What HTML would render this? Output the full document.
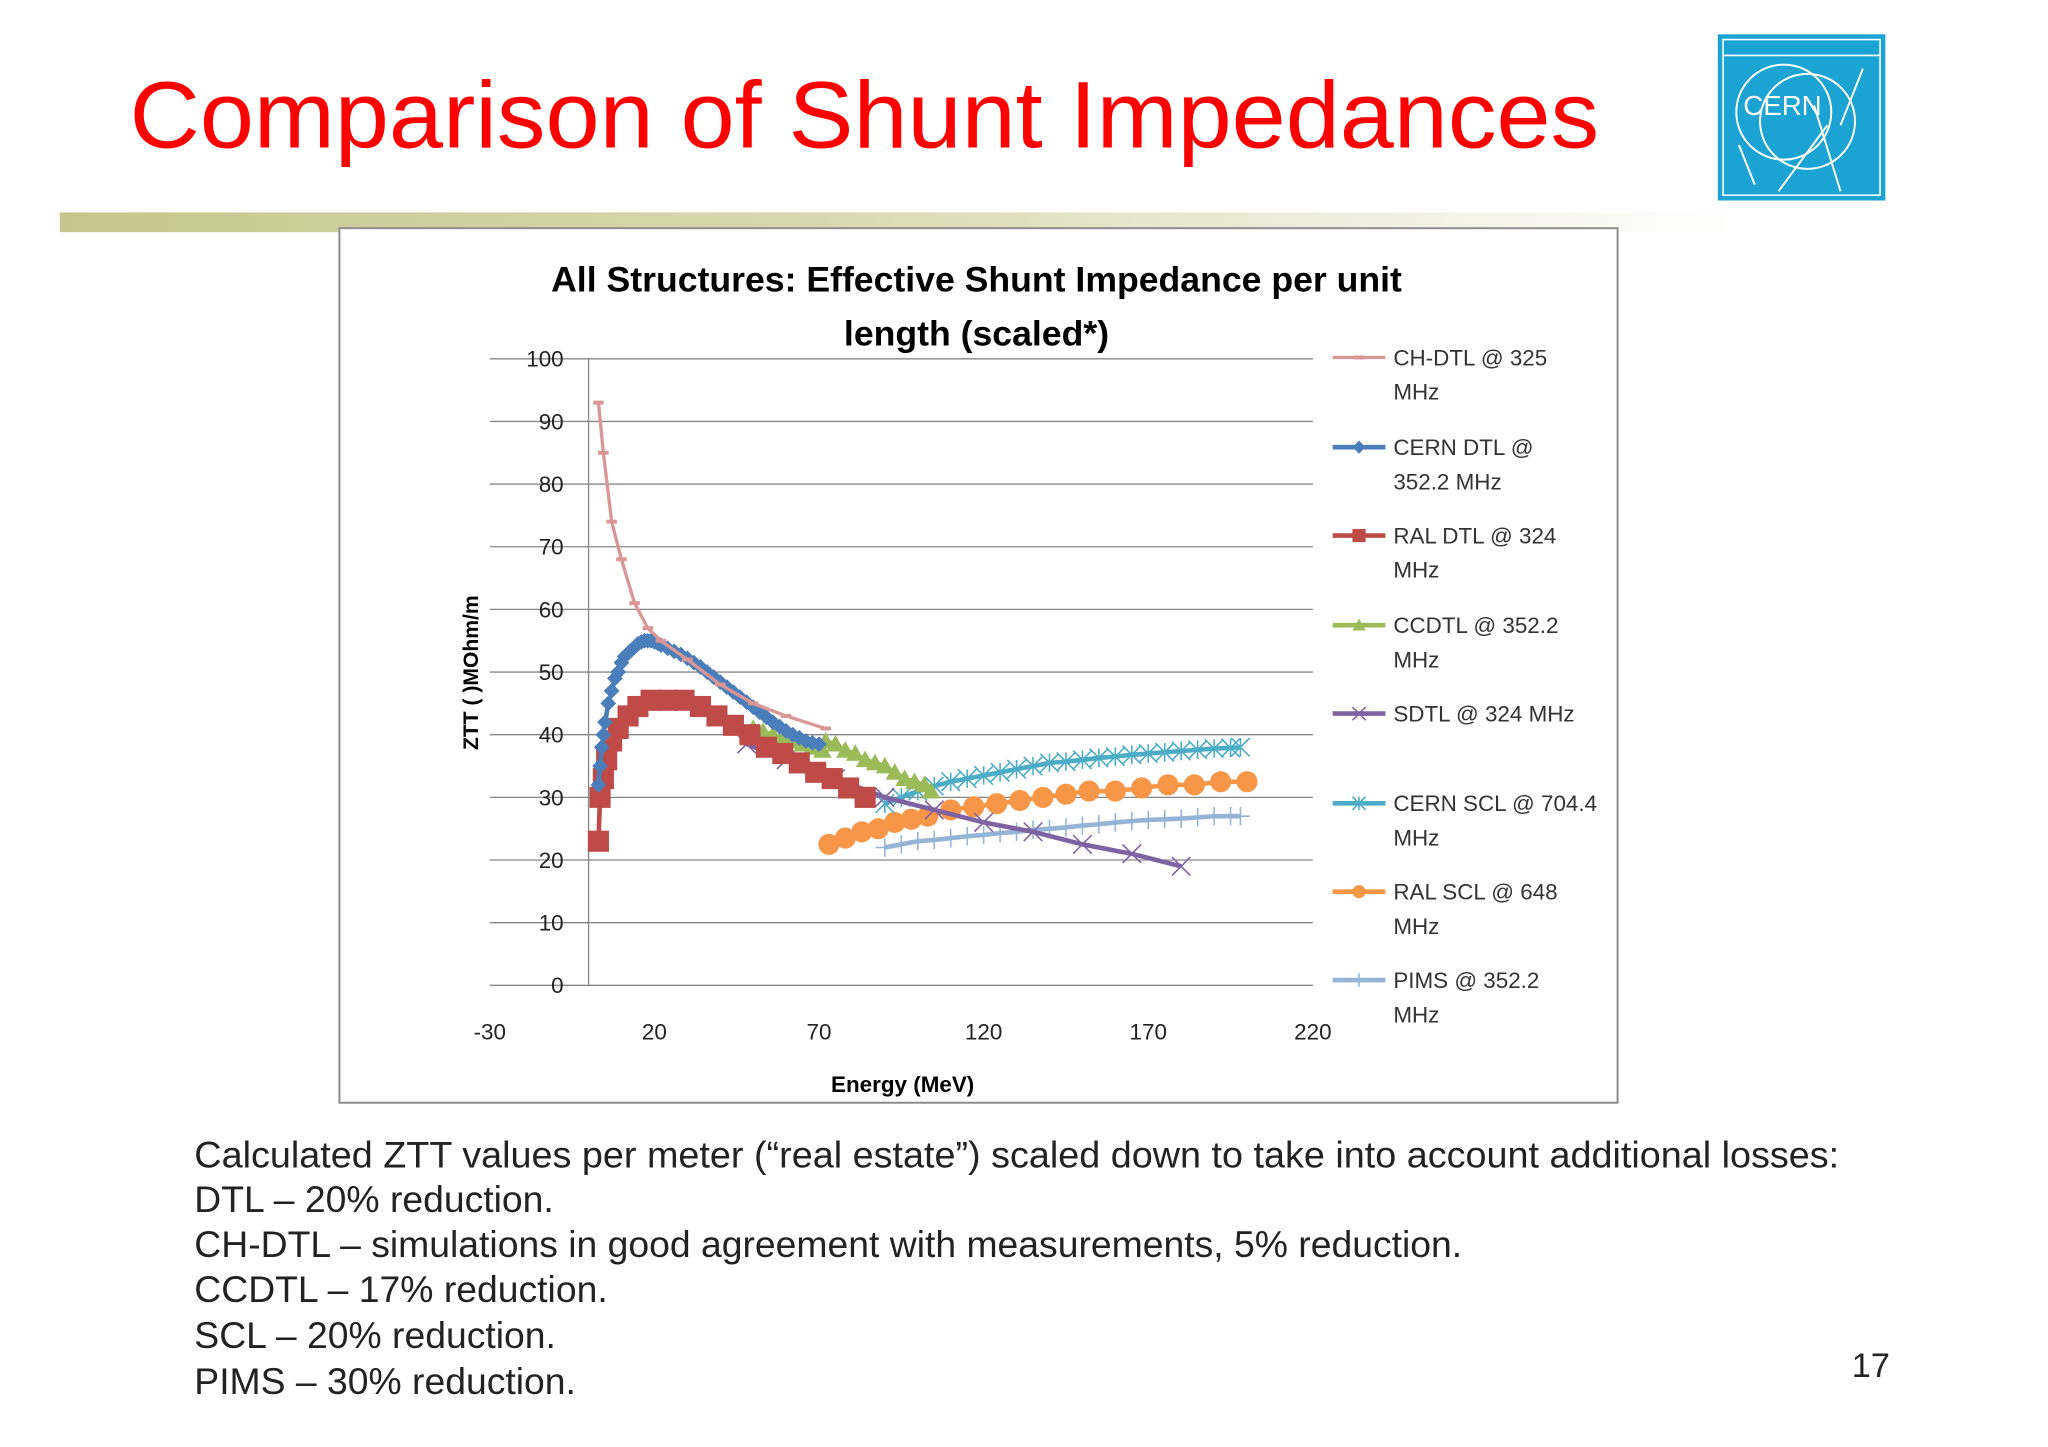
<!DOCTYPE html>
<html><head><meta charset="utf-8"><style>
html,body{margin:0;padding:0;background:#fff;}
svg{display:block;}
</style></head><body>
<svg id="s" width="2048" height="1447" viewBox="0 0 1552 1097" xmlns="http://www.w3.org/2000/svg" font-family="Liberation Sans, sans-serif">
<defs><linearGradient id="g" x1="0" x2="1"><stop offset="0" stop-color="#c6c68c"/><stop offset="0.45" stop-color="#d8d8b0"/><stop offset="1" stop-color="#ffffff"/></linearGradient></defs>
<text x="98" y="112" font-size="72" fill="#ff0000" textLength="1114" lengthAdjust="spacingAndGlyphs">Comparison of Shunt Impedances</text>
<g>
<rect x="1302" y="26" width="127" height="126" fill="#1ba3d3"/>
<rect x="1306" y="30" width="119" height="118" fill="none" stroke="#fff" stroke-width="1.2"/>
<line x1="1306" y1="42" x2="1425" y2="42" stroke="#fff" stroke-width="1.2"/>
<circle cx="1352" cy="85" r="36" fill="none" stroke="#fff" stroke-width="1.5"/>
<circle cx="1370" cy="92" r="36" fill="none" stroke="#fff" stroke-width="1.5"/>
<line x1="1318" y1="110" x2="1330" y2="140" stroke="#fff" stroke-width="1.5"/>
<line x1="1348" y1="145" x2="1385" y2="95" stroke="#fff" stroke-width="1.5"/>
<line x1="1395" y1="145" x2="1375" y2="80" stroke="#fff" stroke-width="1.5"/>
<line x1="1395" y1="95" x2="1412" y2="52" stroke="#fff" stroke-width="1.5"/>
<text x="1351" y="87" font-size="21" fill="#fff" text-anchor="middle">CERN</text>
</g>
<rect x="45" y="161" width="1270" height="15" fill="url(#g)"/>
<rect x="257" y="173" width="969" height="663" fill="#fff" stroke="#8c8c8c" stroke-width="1.5"/>
<text font-weight="bold" font-size="27" text-anchor="middle" fill="#000"><tspan x="740" y="221">All Structures: Effective Shunt Impedance per unit</tspan><tspan x="740" y="262">length (scaled*)</tspan></text>
<g id="grid"></g>
<g id="series"></g>
<text transform="translate(362,510) rotate(-90)" font-size="16" font-weight="bold" text-anchor="middle">ZTT ( )MOhm/m</text>
<text x="684" y="828" font-size="17" font-weight="bold" text-anchor="middle">Energy (MeV)</text>
<g id="legend"></g>
<g font-size="28.3" fill="#222">
<text x="147" y="885" textLength="1247" lengthAdjust="spacingAndGlyphs">Calculated ZTT values per meter (“real estate”) scaled down to take into account additional losses:</text>
<text x="147" y="919">DTL – 20% reduction.</text>
<text x="147" y="953">CH-DTL – simulations in good agreement with measurements, 5% reduction.</text>
<text x="147" y="987">CCDTL – 17% reduction.</text>
<text x="147" y="1022">SCL – 20% reduction.</text>
<text x="147" y="1057">PIMS – 30% reduction.</text>
</g>
<text x="1418" y="1044" font-size="26" fill="#222" text-anchor="middle">17</text>
</svg>
<script>
const xTicks=[-30,20,70,120,170,220];
const yTicks=[0,10,20,30,40,50,60,70,80,90,100];
const seriesNames=["CH-DTL @ 325|MHz","CERN DTL @|352.2 MHz","RAL DTL @ 324|MHz","CCDTL @ 352.2|MHz","SDTL @ 324 MHz","CERN SCL @ 704.4|MHz","RAL SCL @ 648|MHz","PIMS @ 352.2|MHz"];
const seriesColors=["#d99694","#4a7ebb","#be4b48","#9bbb59","#7f62a1","#4bacc6","#f79646","#95b3d7"];
const seriesMarkers=["dash","diamond","square","triangle","x","star","circle","plus"];
const chdtlX=[3,4.5,7,10,14,18,22,30,40,50,60,72];
const chdtlY=[93,85,74,68,61,57,55,52,48,45,43,41];
const cerndtlX=[3,3.5,4,4.5,5,6,7,8,9,10,11,12,13,14,15,16,17,18,19,20,21,22,24,26,28,30,32,34,36,38,40,42,44,46,48,50,52,54,56,58,60,62,64,66,68,70];
const cerndtlY=[32,35,38,40,42,45,47,49,50,51.5,52.5,53,53.5,54,54.5,54.8,55,55,55,54.8,54.6,54.3,53.8,53.3,52.8,52.2,51.5,50.8,50,49.2,48.4,47.6,46.8,46,45.2,44.4,43.6,42.8,42,41.3,40.6,40,39.5,39,38.7,38.5];
const raldtlX=[3,3.5,4.5,5.5,7,9,12,15,19,24,29,34,39,44,49,54,59,64,69,74,79,84];
const raldtlY=[23,30,33,36,39,41,43,44.5,45.5,45.5,45.5,44.5,43,41.5,40,38,37,35.5,34,33,31.5,30];
const ccdtlX=[50,53,56,59,62,65,68,71,72,75,78,81,84,87,90,93,96,99,102,104];
const ccdtlY=[41,40.5,40,39.5,39,38.5,38,37.5,39,38.5,37.5,37,36,35.5,35,34,33,32.5,32,31];
const sdtlX=[48,60,75,90,105,120,135,150,165,180];
const sdtlY=[38.5,36,33,30,28,26,24.5,22.5,21,19];
const cernsclX=[90,95,100,105,110,115,120,125,130,135,140,145,150,155,160,165,170,175,180,185,190,195,198];
const cernsclY=[29,30,31,31.8,32.5,33,33.5,34,34.5,35,35.5,35.7,36,36.3,36.5,36.8,37,37.2,37.4,37.6,37.8,37.9,38];
const ralsclX=[73,78,83,88,93,98,103,110,117,124,131,138,145,152,160,168,176,184,192,200];
const ralsclY=[22.5,23.5,24.5,25,26,26.5,27,28,28.5,29,29.5,30,30.5,31,31,31.5,32,32,32.5,32.5];
const pimsX=[90,95,100,105,110,115,120,125,130,135,140,145,150,155,160,165,170,175,180,185,190,195,198];
const pimsY=[22,22.5,23,23.2,23.5,23.8,24,24.3,24.5,24.8,25,25.2,25.5,25.7,26,26.2,26.4,26.5,26.6,26.8,27,27,27];
const allX=[chdtlX,cerndtlX,raldtlX,ccdtlX,sdtlX,cernsclX,ralsclX,pimsX];
const allY=[chdtlY,cerndtlY,raldtlY,ccdtlY,sdtlY,cernsclY,ralsclY,pimsY];

const NS="http://www.w3.org/2000/svg";
const X0=371,X1=995,Y0=747,Y1=272;
function sx(v){return X0+(v-(-30))/(220-(-30))*(X1-X0);}
function sy(v){return Y0-(v-0)/(100-0)*(Y0-Y1);}
function mk(tag,attrs,parent){const e=document.createElementNS(NS,tag);for(const k in attrs)e.setAttribute(k,attrs[k]);parent.appendChild(e);return e;}
const grid=document.getElementById('grid');
yTicks.forEach(t=>{
  const l=mk('line',{x1:X0,x2:X1,y1:sy(t),y2:sy(t),stroke:'#868686','stroke-width':1},grid);
  
  
  const tx=mk('text',{x:427,y:sy(t)+6,'font-size':17,'text-anchor':'end',fill:'#222'},grid);
  tx.textContent=t;
  
  
});
const ax=mk('line',{x1:sx(0),x2:sx(0),y1:Y1,y2:Y0,stroke:'#868686','stroke-width':1},grid);


xTicks.forEach(t=>{
  const tx=mk('text',{x:sx(t),y:788,'font-size':17,'text-anchor':'middle',fill:'#222'},grid);
  tx.textContent=t;
  
  
});
function marker(type,x,y,c,g,s){
  s=s||6;
  if(type==='dash')return mk('line',{x1:x-4,x2:x+4,y1:y,y2:y,stroke:c,'stroke-width':3},g);
  if(type==='diamond')return mk('polygon',{points:`${x},${y-s} ${x+s},${y} ${x},${y+s} ${x-s},${y}`,fill:c},g);
  if(type==='square')return mk('rect',{x:x-s,y:y-s,width:2*s,height:2*s,fill:c},g);
  if(type==='triangle')return mk('polygon',{points:`${x},${y-s} ${x+s},${y+s*0.8} ${x-s},${y+s*0.8}`,fill:c},g);
  if(type==='circle')return mk('circle',{cx:x,cy:y,r:s,fill:c},g);
  if(type==='x')return mk('path',{d:`M${x-s} ${y-s}L${x+s} ${y+s}M${x-s} ${y+s}L${x+s} ${y-s}`,stroke:c,'stroke-width':1.2},g);
  if(type==='plus')return mk('path',{d:`M${x} ${y-s}V${y+s}M${x-s} ${y}H${x+s}`,stroke:c,'stroke-width':1.2},g);
  if(type==='star')return mk('path',{d:`M${x-s} ${y-s}L${x+s} ${y+s}M${x-s} ${y+s}L${x+s} ${y-s}M${x} ${y-s}V${y+s}`,stroke:c,'stroke-width':1.2},g);
}
const sg=document.getElementById('series');
[7,6,5,4,3,2,1,0].forEach(i=>{
  const g=mk('g',{},sg);
  
  
  const xs=allX[i],ys=allY[i];
  const d=xs.map((v,k)=>(k?'L':'M')+sx(v).toFixed(1)+' '+sy(ys[k]).toFixed(1)).join('');
  mk('path',{d:d,fill:'none',stroke:seriesColors[i],'stroke-width':i===0?2.5:3.5},g);
  const sz={0:5,1:6,2:8,3:7,4:7,5:7,6:8,7:7}[i];
  xs.forEach((v,k)=>{
    const m=marker(seriesMarkers[i],sx(v),sy(ys[k]),seriesColors[i],g,sz);
    
    
  });
});
const lg=document.getElementById('legend');
const ly=[271,339,406,474,541,609,676,743];
seriesNames.forEach((n,i)=>{
  const g=mk('g',{},lg);
  
  
  mk('line',{x1:1010,x2:1050,y1:ly[i],y2:ly[i],stroke:seriesColors[i],'stroke-width':i===0?2.5:3.5},g);
  marker(seriesMarkers[i],1030,ly[i],seriesColors[i],g,5);
  const parts=n.split('|');
  parts.forEach((p,k)=>{
    const t=mk('text',{x:1056,y:ly[i]+6+k*26,'font-size':17,fill:'#333'},g);
    t.textContent=p;
  });
});
</script>
</body></html>
